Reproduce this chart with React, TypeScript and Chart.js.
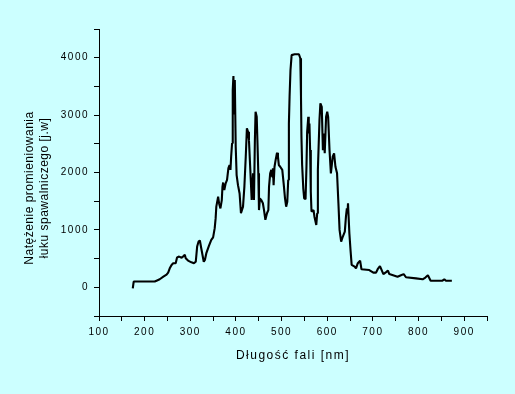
import React, { useEffect, useRef } from 'react';
import { Chart, registerables } from 'chart.js';

Chart.register(...registerables);

// Wavelength [nm]
const wavelengths: number[] = [
  174, 176, 222, 226, 233, 241, 248, 251.5, 255, 259,
  262.5, 268, 271, 275.5, 281, 284, 288, 290, 295, 302.5,
  308, 312, 315, 318, 321, 324, 329.5, 332, 335, 341,
  346, 350, 353.5, 355.5, 357, 361, 363, 366, 369, 370.5,
  372, 374.5, 377.5, 380.5, 383.5, 386, 388, 389.5, 391.5, 393,
  394.5, 396, 397.5, 399.5, 401.5, 404.5, 408, 411, 415.5, 418.5,
  421.5, 424, 426.5, 428.5, 431.5, 434.5, 437.5, 439.5, 441.5, 443,
  445.5, 447, 449, 450.5, 452.5, 455.5, 459, 461.5, 464.5, 468,
  471, 472.5, 475, 477.5, 479.5, 481, 482.5, 484.5, 487, 490,
  492, 494, 497, 501.5, 504.5, 507.5, 510, 512.5, 514.5, 516,
  517.5, 519.5, 522, 528.5, 538, 541, 542.5, 543.5, 545, 547.5,
  549.5, 552.5, 554.5, 556, 558.5, 559.5, 561, 562.5, 564, 565.5,
  570, 572, 576, 578, 579.5, 583, 585, 588, 590.5, 592.5,
  594.5, 597.5, 600, 602, 605, 608, 610, 612, 615, 618,
  621.5, 624.5, 627, 630.5, 634, 638.5, 641, 643, 644.5, 645.5,
  648.5, 651, 653.5, 660, 663, 667, 672, 675, 692, 701,
  707, 710.5, 715.5, 723, 729, 733, 736, 754, 761.5, 767.5,
  772.5, 794.5, 809, 815, 820.5, 826.5, 852.5, 856.5, 860, 873,
];

// Intensity [j.w]
const intensities: number[] = [
  -20, 100, 100, 115, 140, 185, 220, 255, 330, 390,
  420, 420, 520, 535, 515, 535, 565, 505, 465, 435,
  420, 445, 710, 795, 815, 680, 445, 475, 590, 725,
  825, 870, 1030, 1200, 1405, 1580, 1465, 1375, 1520, 1755,
  1825, 1695, 1810, 1870, 2075, 2130, 2045, 2275, 2510, 3435,
  3680, 3030, 3610, 2450, 1955, 1780, 1635, 1290, 1405, 1755,
  2275, 2770, 2710, 2565, 2045, 1520, 1985, 1520, 2565, 3060,
  2970, 2565, 1985, 1345, 1550, 1520, 1465, 1345, 1175, 1290,
  1345, 1755, 1985, 2045, 1925, 2075, 1780, 2100, 2220, 2345,
  2275, 2130, 2100, 2045, 1810, 1550, 1405, 1490, 1870, 2855,
  3320, 3785, 4045, 4060, 4060, 3990, 3320, 2625, 2130, 1725,
  1550, 1535, 2100, 2710, 2970, 2680, 2855, 2390, 1665, 1320,
  1345, 1230, 1085, 1290, 2045, 2915, 3205, 3145, 2390, 2680,
  2335, 2970, 3060, 2970, 2390, 1985, 2130, 2275, 2335, 2100,
  1985, 1465, 1000, 795, 880, 970, 1230, 1375, 1290, 1465,
  940, 650, 390, 360, 330, 420, 465, 315, 300, 255,
  255, 315, 370, 230, 265, 290, 230, 185, 210, 230,
  175, 155, 140, 170, 210, 115, 115, 140, 115, 115,
];

const xTitle = 'Długość fali [nm]';
const yTitleLines = ['Natężenie promieniowania', 'łuku spawalniczego [j.w]'];
const xMin = 100;
const xMax = 950;
const xStep = 50;
const xLabelEvery = 100;
const yMin = -500;
const yMax = 4500;
const yStep = 500;
const yLabelEvery = 1000;

const FONT = 'Arial, "Liberation Sans", sans-serif';

export default function App() {
  const ref = useRef<HTMLCanvasElement | null>(null);

  useEffect(() => {
    if (!ref.current) return;
    const points = wavelengths.map((x, i) => ({ x, y: intensities[i] }));

    const spacingPlugin = {
      id: 'spacing',
      beforeDraw(chart: any) {
        chart.ctx.letterSpacing = '1.5px';
      },
      afterDraw(chart: any) {
        const ctx = chart.ctx;
        ctx.save();
        ctx.letterSpacing = '0.5px';
        ctx.fillStyle = '#000';
        ctx.font = `12px ${FONT}`;
        ctx.textAlign = 'center';
        ctx.textBaseline = 'middle';
        const cy = 188;
        const xs = [30, 45];
        yTitleLines.forEach((line, i) => {
          ctx.save();
          ctx.translate(xs[i], cy);
          ctx.rotate(-Math.PI / 2);
          ctx.fillText(line, 0, 0);
          ctx.restore();
        });
        ctx.restore();
        ctx.letterSpacing = '0px';
      },
    };

    const chart = new Chart(ref.current, {
      type: 'line',
      data: {
        datasets: [
          {
            data: points,
            borderColor: '#000',
            borderWidth: 2.1,
            borderJoinStyle: 'bevel',
            pointRadius: 0,
            tension: 0,
            fill: false,
          },
        ],
      },
      options: {
        animation: false,
        responsive: false,
        events: [],
        layout: { padding: { top: 29, right: 28, left: 0, bottom: 0 } },
        plugins: {
          legend: { display: false },
          tooltip: { enabled: false },
          title: { display: false },
        },
        scales: {
          x: {
            type: 'linear',
            min: xMin,
            max: xMax,
            afterFit: (s: any) => {
              s.height = 78;
            },
            ticks: {
              stepSize: xStep,
              autoSkip: false,
              maxRotation: 0,
              color: '#000',
              padding: 5,
              font: { family: FONT, size: 10 },
              callback: (v: any) => (Number(v) % xLabelEvery === 0 ? String(v) : ''),
            },
            grid: {
              drawOnChartArea: false,
              drawTicks: true,
              tickLength: 5,
              color: '#000',
              lineWidth: 1,
            },
            border: { display: true, color: '#000', width: 1 },
            title: {
              display: true,
              text: xTitle,
              color: '#000',
              font: { family: FONT, size: 12 },
              padding: { top: 0, bottom: 31 },
            },
          },
          y: {
            type: 'linear',
            min: yMin,
            max: yMax,
            afterFit: (s: any) => {
              s.width = 99;
            },
            ticks: {
              stepSize: yStep,
              autoSkip: false,
              color: '#000',
              padding: 5,
              font: { family: FONT, size: 10 },
              callback: (v: any) => (Number(v) % yLabelEvery === 0 ? String(v) : ''),
            },
            grid: {
              drawOnChartArea: false,
              drawTicks: true,
              tickLength: 5,
              color: '#000',
              lineWidth: 1,
            },
            border: { display: true, color: '#000', width: 1 },
            title: { display: false },
          },
        },
      },
      plugins: [spacingPlugin],
    } as any);

    return () => chart.destroy();
  }, []);

  return (
    <div
      style={{
        position: 'fixed',
        left: 0,
        top: 0,
        width: 515,
        height: 394,
        background: '#ccffff',
      }}
    >
      <canvas ref={ref} width={515} height={394} style={{ display: 'block' }} />
    </div>
  );
}
